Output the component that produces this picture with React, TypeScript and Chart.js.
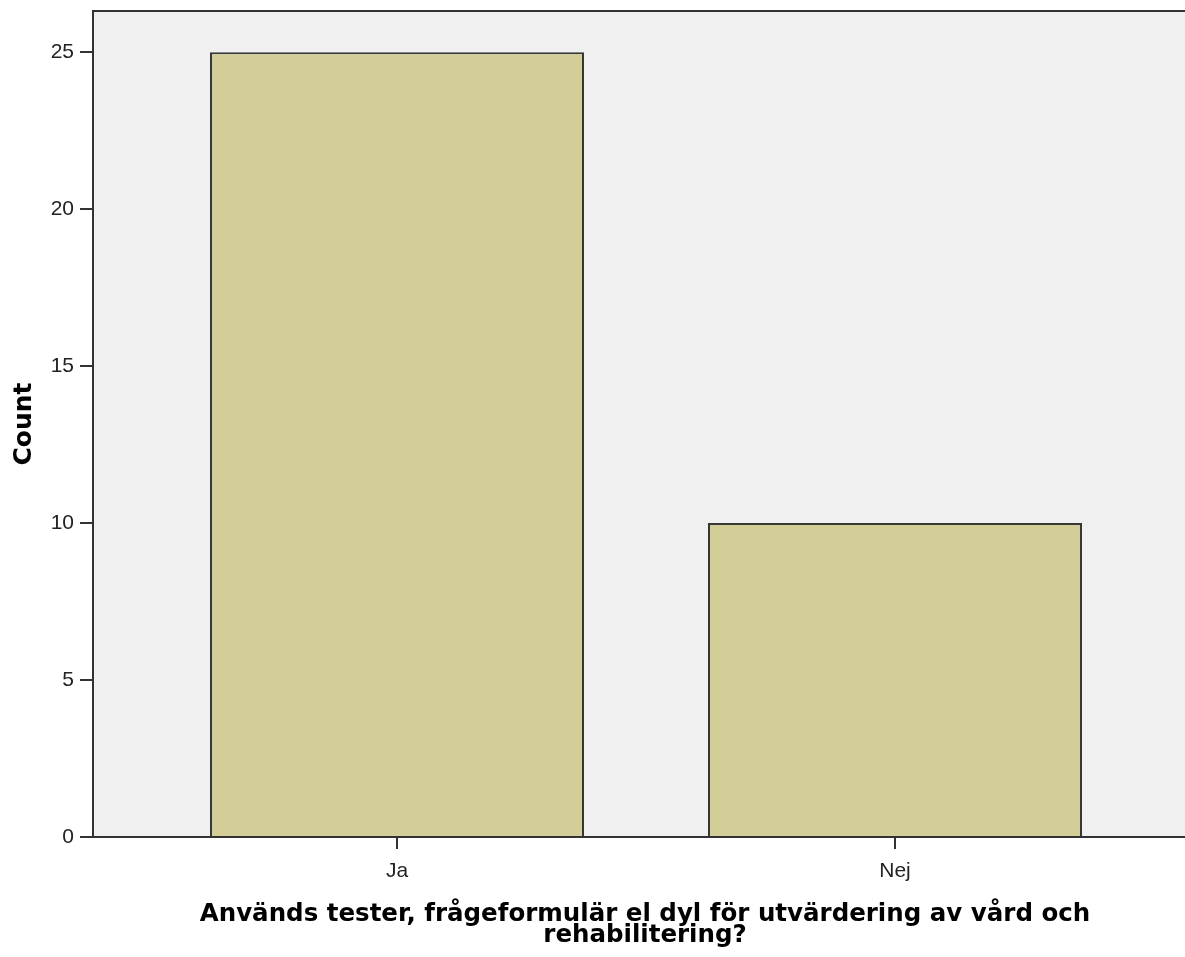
import React, { useEffect, useRef } from "react";
import { Chart, registerables } from "chart.js";

Chart.register(...registerables);

const categories = ["Ja", "Nej"];
const counts = [25, 10];
const yTicks = [0, 5, 10, 15, 20, 25];
const xTitle = [
  "Används tester, frågeformulär el dyl för utvärdering av vård och",
  "rehabilitering?",
];
const yTitle = "Count";

const AXIS = "#333333";

const framePlugin = {
  id: "frame",
  beforeDraw(chart: any) {
    const { ctx, chartArea } = chart;
    ctx.save();
    ctx.fillStyle = "#f0f0f0";
    ctx.fillRect(chartArea.left, chartArea.top, chartArea.right - chartArea.left, chartArea.bottom - chartArea.top);
    ctx.restore();
  },
  afterDraw(chart: any) {
    const { ctx, chartArea } = chart;
    ctx.save();
    ctx.strokeStyle = AXIS;
    ctx.lineWidth = 2;
    ctx.beginPath();
    ctx.moveTo(chartArea.left, chartArea.top);
    ctx.lineTo(chartArea.right, chartArea.top);
    ctx.stroke();
    ctx.restore();
  },
};

export default function App() {
  const ref = useRef<HTMLCanvasElement | null>(null);
  useEffect(() => {
    if (!ref.current) return;
    const chart = new Chart(ref.current, {
      type: "bar",
      data: {
        datasets: [
          {
            data: counts.map((v, i) => ({ x: i, y: v })),
            backgroundColor: "#d3ce98",
            borderColor: "#363636",
            borderWidth: 2,
            categoryPercentage: 1,
            barPercentage: 0.751,
          },
        ],
      },
      plugins: [framePlugin],
      options: {
        animation: false,
        responsive: false,
        events: [],
        layout: { padding: { top: 11, right: 0, bottom: 0, left: 0 } },
        plugins: { legend: { display: false }, tooltip: { enabled: false } },
        scales: {
          x: {
            type: "linear",
            min: -0.6104,
            max: 1.6064,
            offset: false,
            afterBuildTicks: (s: any) => {
              s.ticks = categories.map((_, i) => ({ value: i }));
            },
            afterFit: (s: any) => {
              s.height = 120;
              s.paddingLeft = 0;
              s.paddingRight = 0;
            },
            grid: {
              offset: false,
              drawOnChartArea: false,
              drawTicks: true,
              tickLength: 12,
              color: AXIS,
              lineWidth: 2,
            },
            border: { display: true, color: AXIS, width: 2 },
            ticks: {
              padding: 10,
              color: "#222",
              font: { family: "'Liberation Sans', Arial, sans-serif", size: 21 },
              callback: (v: any) => categories[v] ?? "",
            },
            title: {
              display: true,
              text: xTitle,
              color: "#000",
              font: { family: "'DejaVu Sans', sans-serif", size: 24.5, weight: "bold", lineHeight: 0.86 },
              padding: { top: 0, bottom: 10.5 },
            },
          },
          y: {
            type: "linear",
            min: 0,
            max: 26.31,
            afterBuildTicks: (s: any) => {
              s.ticks = yTicks.map((v) => ({ value: v }));
            },
            afterFit: (s: any) => {
              s.width = 93;
              s.paddingTop = 0;
              s.paddingBottom = 0;
            },
            grid: {
              drawOnChartArea: false,
              drawTicks: true,
              tickLength: 13,
              color: AXIS,
              lineWidth: 2,
            },
            border: { display: true, color: AXIS, width: 2 },
            ticks: {
              padding: 6,
              color: "#222",
              font: { family: "'Liberation Sans', Arial, sans-serif", size: 21 },
            },
            title: {
              display: true,
              text: yTitle,
              color: "#000",
              font: { family: "'DejaVu Sans', sans-serif", size: 25, weight: "bold", lineHeight: 1 },
              padding: { top: 12, bottom: 0 },
            },
          },
        },
      },
    });
    return () => chart.destroy();
  }, []);
  return (
    <div
      style={{
        position: "fixed",
        left: 0,
        top: 0,
        width: 1185,
        height: 957,
        overflow: "hidden",
        background: "#fff",
      }}
    >
      <canvas ref={ref} width={1197} height={957} style={{ display: "block" }} />
    </div>
  );
}
